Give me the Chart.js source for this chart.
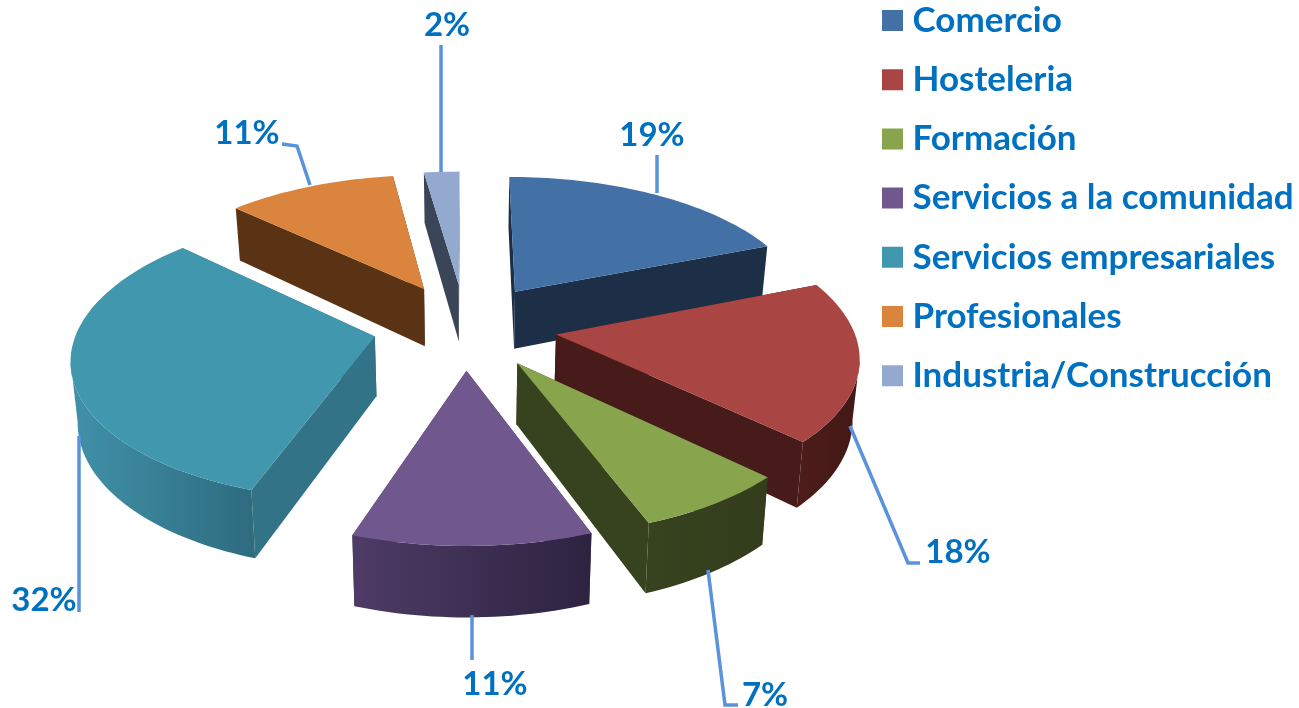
<!DOCTYPE html>
<html>
<head>
<meta charset="utf-8">
<title>Sectores</title>
<script src="https://cdn.jsdelivr.net/npm/chart.js@4/dist/chart.umd.min.js"></script>
<style>
html, body { margin: 0; padding: 0; background: #fff; overflow: hidden; }
#wrap { position: relative; width: 1299px; height: 708px; }
</style>
</head>
<body>
<div id="wrap"><canvas id="pie"></canvas></div>
<script>
const categories = ['Comercio', 'Hosteleria', 'Formación', 'Servicios a la comunidad', 'Servicios empresariales', 'Profesionales', 'Industria/Construcción'];
// the labels show them rounded
const percentages = [19, 18.2, 7.1, 10.9, 31.8, 10.75, 2.25];
const topColors = ['#4371A6', '#A94543', '#88A44D', '#70588E', '#4197AE', '#DB843D', '#93A9CF'];
const wallColors = ['#1C2F47', '#471B19', '#37421F', '#4A3760', '#337387', '#5A3315', '#3A4557'];
const rimLeftColors = ['#1C2F47', '#4C1C1A', '#37421F', '#4E3B66', '#4091A8', '#5A3315', '#3A4557'];
const rimRightColors = ['#1C2F47', '#421816', '#333D1C', '#2D2340', '#2E6C80', '#5A3315', '#3A4557'];

// labels: text centre, then the leader line
const labelSpots = [
    { x: 652, y: 135, line: [[657, 155], [657, 193]] },
    { x: 958, y: 552, line: [[850, 426], [908, 563], [920, 563]] },
    { x: 765, y: 695, line: [[708, 570], [725, 705], [738, 705]] },
    { x: 495, y: 684, line: [[472, 615], [472, 660]] },
    { x: 44, y: 600, line: [[79, 436], [79, 612]] },
    { x: 247, y: 133, line: [[282, 144], [297, 146], [310, 185]] },
    { x: 447, y: 25, line: [[441, 45], [441, 172]] }
];

const BLUE = '#0070C0';
const LEADER = '#5A92DC';
const CX = 465, CY = 326;   // where the pie centre lands on screen
const SQUASH = 0.467, PERSP = 0.00045, DEPTH = 59, SHRINK = 0.982;

function project(wx, wy) {
    const f = 1 / (1 - PERSP * wy);
    return { x: CX + wx * f, y: CY + wy * SQUASH * f, f };
}

function lower(p) {
    return { x: CX + (p.x - CX) * SHRINK, y: p.y + DEPTH * p.f };
}

function fillPoly(ctx, pts, color) {
    ctx.beginPath();
    pts.forEach((p, i) => (i ? ctx.lineTo(p.x, p.y) : ctx.moveTo(p.x, p.y)));
    ctx.closePath();
    ctx.fillStyle = color;
    ctx.fill();
}

function drawSlice(ctx, arc, idx) {
    const { startAngle, endAngle, outerRadius } = arc;
    const mid = (startAngle + endAngle) / 2;
    const off = arc.options.offset;
    const ox = Math.cos(mid) * off, oy = Math.sin(mid) * off;
    const apex = project(ox, oy);
    const steps = Math.max(6, Math.round((endAngle - startAngle) * 40));
    const rim = [];
    for (let i = 0; i <= steps; i++) {
        const a = startAngle + (endAngle - startAngle) * i / steps;
        rim.push(project(ox + Math.cos(a) * outerRadius, oy + Math.sin(a) * outerRadius));
    }
    const faces = [];
    const addFace = (pts, color) => faces.push({ pts, color, depth: pts.reduce((s, p) => s + p.y, 0) / pts.length });
    const wall = wallColors[idx];
    addFace([apex, rim[0], lower(rim[0]), lower(apex)], wall);
    addFace([apex, rim[steps], lower(rim[steps]), lower(apex)], wall);
    // rim runs clockwise, so only the part going right to left faces the viewer
    const front = rim.filter((p, i) => (i < steps && rim[i + 1].x < p.x) || (i > 0 && p.x < rim[i - 1].x));
    if (front.length > 1) {
        const xs = front.map((p) => p.x);
        const grad = ctx.createLinearGradient(Math.min(...xs), 0, Math.max(...xs), 0);
        grad.addColorStop(0, rimLeftColors[idx]);
        grad.addColorStop(1, rimRightColors[idx]);
        addFace([...front, ...front.map(lower).reverse()], grad);
    }
    faces.sort((a, b) => a.depth - b.depth).forEach((f) => fillPoly(ctx, f.pts, f.color));
    fillPoly(ctx, [apex, ...rim], arc.options.backgroundColor);
}

const pie3d = {
    id: 'pie3d',
    afterLayout(chart) {
        chart.legend.left = 890 - chart.legend.options.labels.padding;
        chart.legend.top = 3 - chart.legend.options.labels.padding;
    },
    beforeDatasetDraw(chart, args) {
        const ctx = chart.ctx;
        const arcs = args.meta.data.map((arc, i) => ({ arc, i }));
        // back to front
        arcs.sort((a, b) => Math.sin((a.arc.startAngle + a.arc.endAngle) / 2) - Math.sin((b.arc.startAngle + b.arc.endAngle) / 2));
        ctx.save();
        arcs.forEach(({ arc, i }) => drawSlice(ctx, arc, i));
        ctx.restore();
        return false;
    },
    afterDatasetsDraw(chart) {
        const ctx = chart.ctx;
        ctx.save();
        labelSpots.forEach((spot, i) => {
            ctx.beginPath();
            spot.line.forEach((p, j) => (j ? ctx.lineTo(p[0], p[1]) : ctx.moveTo(p[0], p[1])));
            ctx.strokeStyle = LEADER;
            ctx.lineWidth = 3.5;
            ctx.stroke();
            ctx.fillStyle = BLUE;
            ctx.font = 'bold 33px Lato';
            ctx.textAlign = 'center';
            ctx.textBaseline = 'middle';
            ctx.fillText(Math.round(percentages[i]) + '%', spot.x, spot.y);
        });
        ctx.restore();
    }
};

new Chart(document.getElementById('pie'), {
    type: 'pie',
    data: {
        labels: categories,
        datasets: [{
            data: percentages,
            backgroundColor: topColors,
            borderWidth: 0,
            offset: 92
        }]
    },
    options: {
        responsive: true,
        maintainAspectRatio: false,
        animation: false,
        radius: '96.3%',
        plugins: {
            tooltip: { enabled: false },
            legend: {
                position: 'right',
                align: 'start',
                labels: {
                    usePointStyle: true,
                    pointStyle: 'rect',
                    boxWidth: 5,
                    boxHeight: 21,
                    padding: 24.2,
                    color: BLUE,
                    font: { family: 'Lato', weight: 'bold', size: 35, lineHeight: 1 }
                }
            }
        }
    },
    plugins: [pie3d]
});
</script>
</body>
</html>
